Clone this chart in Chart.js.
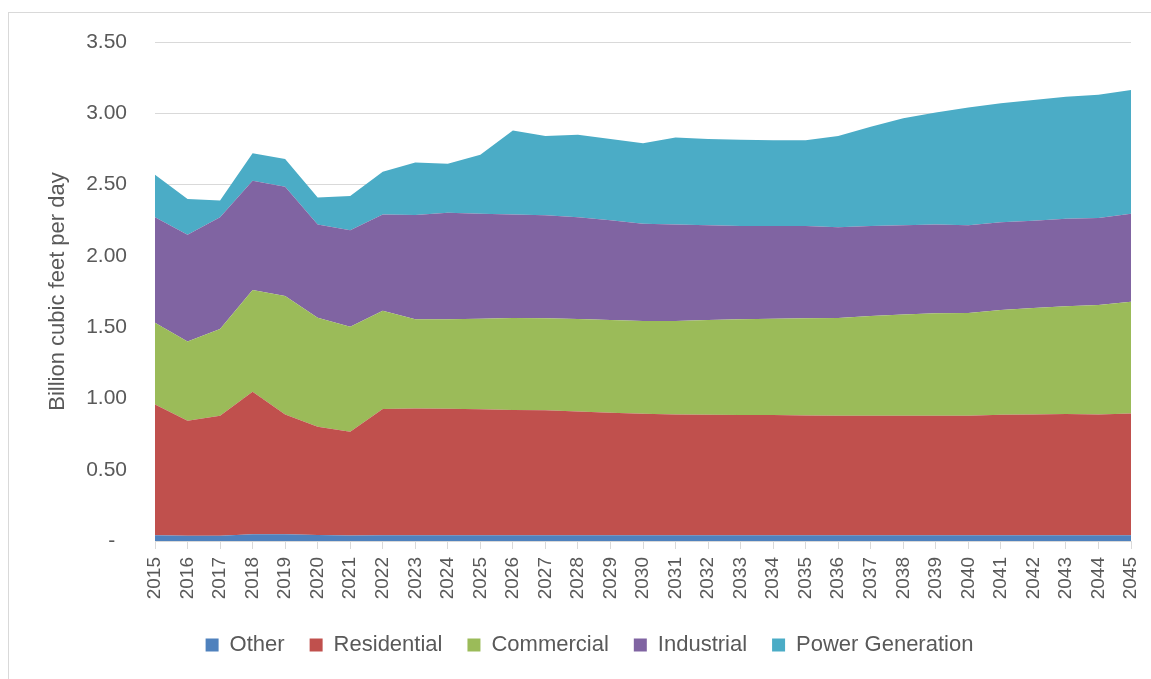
<!DOCTYPE html>
<html>
<head>
<meta charset="utf-8">
<script src="https://cdn.jsdelivr.net/npm/chart.js@4/dist/chart.umd.min.js"></script>
<style>
  html, body { margin: 0; padding: 0; background: #fff; }
  #wrap { position: relative; width: 1151px; height: 679px; overflow: hidden; }
  #frame { position: absolute; left: 8px; top: 12px; width: 1200px; height: 700px;
           border-left: 1px solid #d9d9d9; border-top: 1px solid #d9d9d9; }
  #chart1 { position: absolute; left: 0; top: 0; }
</style>
</head>
<body>
<div id="wrap">
  <div id="frame"></div>
  <canvas id="chart1" width="1151" height="679"></canvas>
</div>
<script>
// years on the x axis
const years = ['2015','2016','2017','2018','2019','2020','2021','2022','2023','2024',
  '2025','2026','2027','2028','2029','2030','2031','2032','2033','2034','2035',
  '2036','2037','2038','2039','2040','2041','2042','2043','2044','2045'];

// billion cubic feet per day, by sector (stacked)
const other = [0.040, 0.037, 0.037, 0.048, 0.047, 0.042, 0.038, 0.040, 0.040, 0.040,
  0.040, 0.040, 0.040, 0.040, 0.040, 0.040, 0.040, 0.040, 0.040, 0.040, 0.040,
  0.040, 0.040, 0.040, 0.040, 0.040, 0.040, 0.040, 0.040, 0.040, 0.040];
const residential = [0.918, 0.807, 0.842, 0.999, 0.841, 0.760, 0.729, 0.886, 0.890, 0.888,
  0.884, 0.879, 0.877, 0.869, 0.860, 0.853, 0.848, 0.846, 0.844, 0.844, 0.841,
  0.839, 0.839, 0.839, 0.839, 0.839, 0.846, 0.848, 0.851, 0.848, 0.855];
const commercial = [0.573, 0.556, 0.608, 0.713, 0.830, 0.764, 0.736, 0.689, 0.625, 0.627,
  0.635, 0.645, 0.645, 0.648, 0.650, 0.650, 0.655, 0.664, 0.671, 0.675, 0.681,
  0.685, 0.699, 0.709, 0.718, 0.720, 0.734, 0.746, 0.755, 0.767, 0.783];
const industrial = [0.739, 0.748, 0.783, 0.767, 0.767, 0.654, 0.677, 0.675, 0.731, 0.747,
  0.736, 0.726, 0.722, 0.713, 0.700, 0.682, 0.677, 0.665, 0.655, 0.651, 0.648,
  0.636, 0.632, 0.626, 0.623, 0.615, 0.615, 0.612, 0.614, 0.610, 0.617];
const powerGen = [0.299, 0.250, 0.118, 0.193, 0.195, 0.190, 0.240, 0.300, 0.369, 0.344,
  0.415, 0.590, 0.556, 0.580, 0.570, 0.565, 0.610, 0.605, 0.605, 0.600, 0.600,
  0.640, 0.695, 0.751, 0.786, 0.826, 0.835, 0.847, 0.856, 0.865, 0.868];

const seriesNames = ['Other', 'Residential', 'Commercial', 'Industrial', 'Power Generation'];
const seriesColors = ['#4f81bd', '#c0504d', '#9bbb59', '#8064a2', '#4bacc6'];
const seriesValues = [other, residential, commercial, industrial, powerGen];

const textColor = '#595959';
const gridColor = '#d9d9d9';
const fontFamily = '"Liberation Sans", Arial, sans-serif';

// nudge the legend so it sits where the original one does
const legendShift = {
    id: 'legendShift',
    afterLayout(chart) {
        chart.legend.left += 24;
        chart.legend.right += 24;
    }
};

const datasets = seriesNames.map((name, i) => ({
    label: name,
    data: seriesValues[i],
    backgroundColor: seriesColors[i],
    borderColor: 'rgba(0,0,0,0)',
    borderWidth: 0,
    pointRadius: 0,
    tension: 0,
    fill: i === 0 ? 'origin' : '-1'
}));

new Chart(document.getElementById('chart1'), {
    type: 'line',
    data: { labels: years, datasets: datasets },
    plugins: [legendShift],
    options: {
        responsive: false,
        animation: false,
        events: [],
        layout: { padding: { top: 42, right: 20, bottom: 13, left: 0 } },
        plugins: {
            tooltip: { enabled: false },
            legend: {
                position: 'bottom',
                labels: {
                    boxWidth: 13,
                    boxHeight: 13,
                    padding: 25,
                    color: textColor,
                    font: { family: fontFamily, size: 22 }
                }
            }
        },
        scales: {
            x: {
                offset: false,
                grid: { display: true, drawOnChartArea: false, drawTicks: true, tickLength: 8, color: gridColor },
                border: { display: true, color: gridColor },
                ticks: {
                    autoSkip: false, maxRotation: 90, minRotation: 90, padding: 8,
                    color: textColor, font: { family: fontFamily, size: 19 }
                },
                afterFit: s => { s.height = 68; s.paddingLeft = 0; s.paddingRight = 0; }
            },
            y: {
                stacked: true,
                min: 0,
                max: 3.5,
                grid: { color: gridColor, drawTicks: false },
                border: { display: false },
                ticks: {
                    stepSize: 0.5, padding: 28, color: textColor,
                    font: { family: fontFamily, size: 21 },
                    callback: v => v === 0 ? '-  ' : v.toFixed(2)
                },
                title: {
                    display: true, text: 'Billion cubic feet per day', color: textColor,
                    font: { family: fontFamily, size: 22 },
                    padding: { top: 45, bottom: 0 }
                },
                afterFit: s => { s.width = 155; }
            }
        }
    }
});
</script>
</body>
</html>
